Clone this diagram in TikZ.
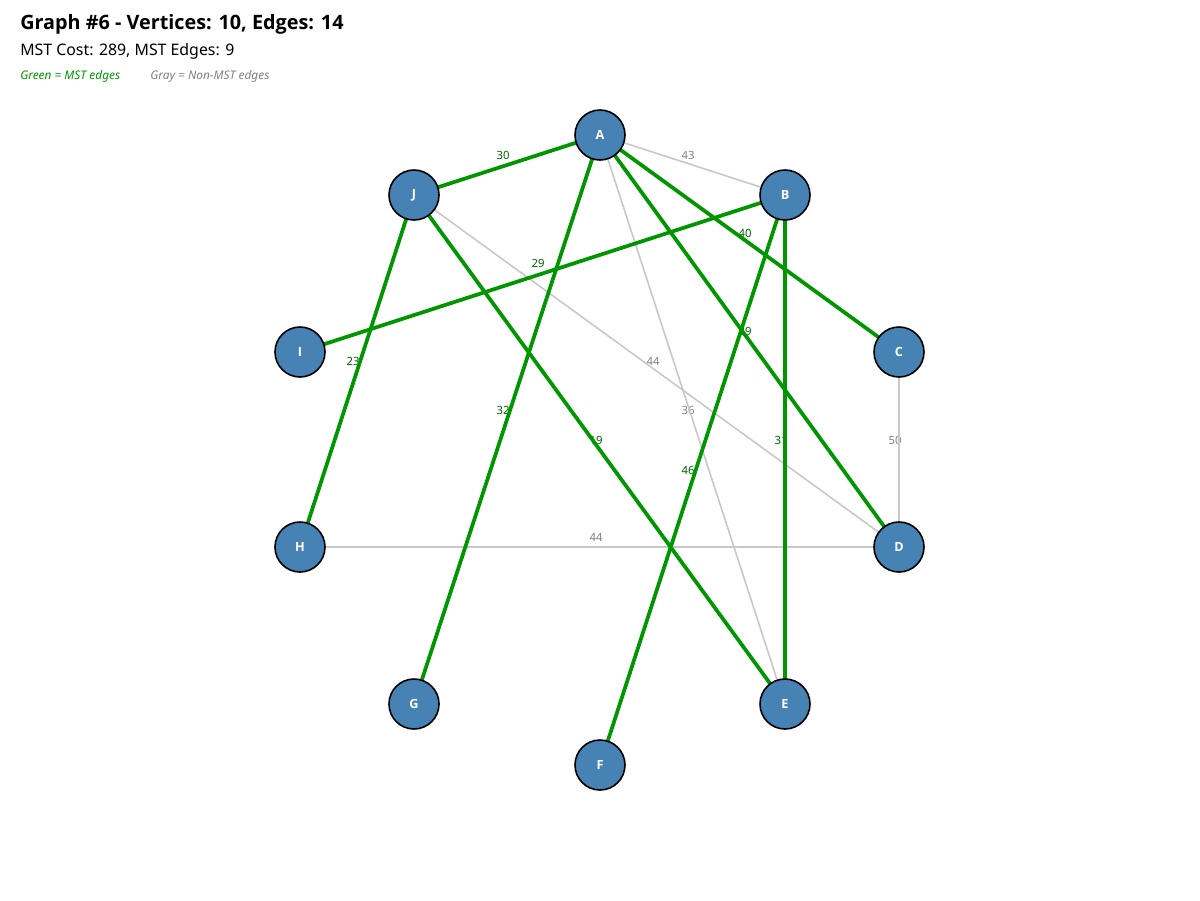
\documentclass[tikz,border=0pt]{standalone}
\usepackage{fontspec}
\setmainfont{Noto Sans}
\newfontfamily\boldfam{Open Sans}
\begin{document}
\begin{tikzpicture}[x=0.75pt,y=-0.75pt,
  vtx/.style={circle,draw=black,line width=1.2pt,fill=steel,minimum size=37.5pt,inner sep=0pt,text=white,font=\boldfam\fontsize{9.5}{11}\selectfont\bfseries},
  mst/.style={draw=mstgreen,line width=2.8pt},
  non/.style={draw=lightgray2,line width=1.2pt},
  glab/.style={text=labgreen,font=\fontsize{8.5}{10}\selectfont,inner sep=0pt},
  nlab/.style={text=labgray,font=\fontsize{8.5}{10}\selectfont,inner sep=0pt}]
\definecolor{steel}{RGB}{70,130,180}
\definecolor{mstgreen}{RGB}{0,150,0}
\definecolor{labgreen}{RGB}{0,100,0}
\definecolor{lightgray2}{RGB}{200,200,200}
\definecolor{labgray}{RGB}{128,128,128}
\useasboundingbox (0,0) rectangle (1200,900);
\node[anchor=base west,inner sep=0pt,font=\boldfam\fontsize{14.85}{18}\selectfont\bfseries] (title) at (20,29) {Graph \#6 - Vertices: 10, Edges: 14};
\node[anchor=base west,inner sep=0pt,font=\fontsize{11.9}{14}\selectfont] (sub) at (20,55) {MST Cost: 289, MST Edges: 9};
\node[anchor=base west,inner sep=0pt,text=mstgreen,font=\fontsize{8.9}{10}\selectfont\itshape] (lg1) at (20,79) {Green = MST edges};
\node[anchor=base west,inner sep=0pt,text=labgray,font=\fontsize{8.9}{10}\selectfont\itshape] (lg2) at (150,79) {Gray = Non-MST edges};
% coordinates
\coordinate (cA) at (600,135);
\coordinate (cB) at (785,195);
\coordinate (cC) at (899,352);
\coordinate (cD) at (899,547);
\coordinate (cE) at (785,704);
\coordinate (cF) at (600,765);
\coordinate (cG) at (414,704);
\coordinate (cH) at (300,547);
\coordinate (cI) at (300,352);
\coordinate (cJ) at (414,195);
% labels
\node[glab] (l1) at (503,155) {30};
\node[nlab] (l2) at (688,155) {43};
\node[glab] (l3) at (745,233) {40};
\node[glab] (l4) at (745,331) {39};
\node[glab] (l5) at (503,410) {32};
\node[nlab] (l6) at (688,410) {36};
\node[glab] (l7) at (538,263) {29};
\node[glab] (l8) at (781,440) {31};
\node[glab] (l9) at (688,470) {46};
\node[glab] (l10) at (353,361) {23};
\node[glab] (l11) at (596,440) {19};
\node[nlab] (l12) at (653,361) {44};
\node[nlab] (l13) at (895,440) {50};
\node[nlab] (l14) at (596,537) {44};
% edges
\draw[non] (cA) -- (cB);
\draw[non] (cA) -- (cE);
\draw[non] (cJ) -- (cD);
\draw[non] (cC) -- (cD);
\draw[non] (cH) -- (cD);
\draw[mst] (cA) -- (cJ);
\draw[mst] (cA) -- (cC);
\draw[mst] (cA) -- (cD);
\draw[mst] (cA) -- (cG);
\draw[mst] (cB) -- (cI);
\draw[mst] (cB) -- (cE);
\draw[mst] (cB) -- (cF);
\draw[mst] (cJ) -- (cH);
\draw[mst] (cJ) -- (cE);
% vertices
\node[vtx] (A) at (cA) {A};
\node[vtx] (B) at (cB) {B};
\node[vtx] (C) at (cC) {C};
\node[vtx] (D) at (cD) {D};
\node[vtx] (E) at (cE) {E};
\node[vtx] (F) at (cF) {F};
\node[vtx] (G) at (cG) {G};
\node[vtx] (H) at (cH) {H};
\node[vtx] (I) at (cI) {I};
\node[vtx] (J) at (cJ) {J};
\end{tikzpicture}
\end{document}
